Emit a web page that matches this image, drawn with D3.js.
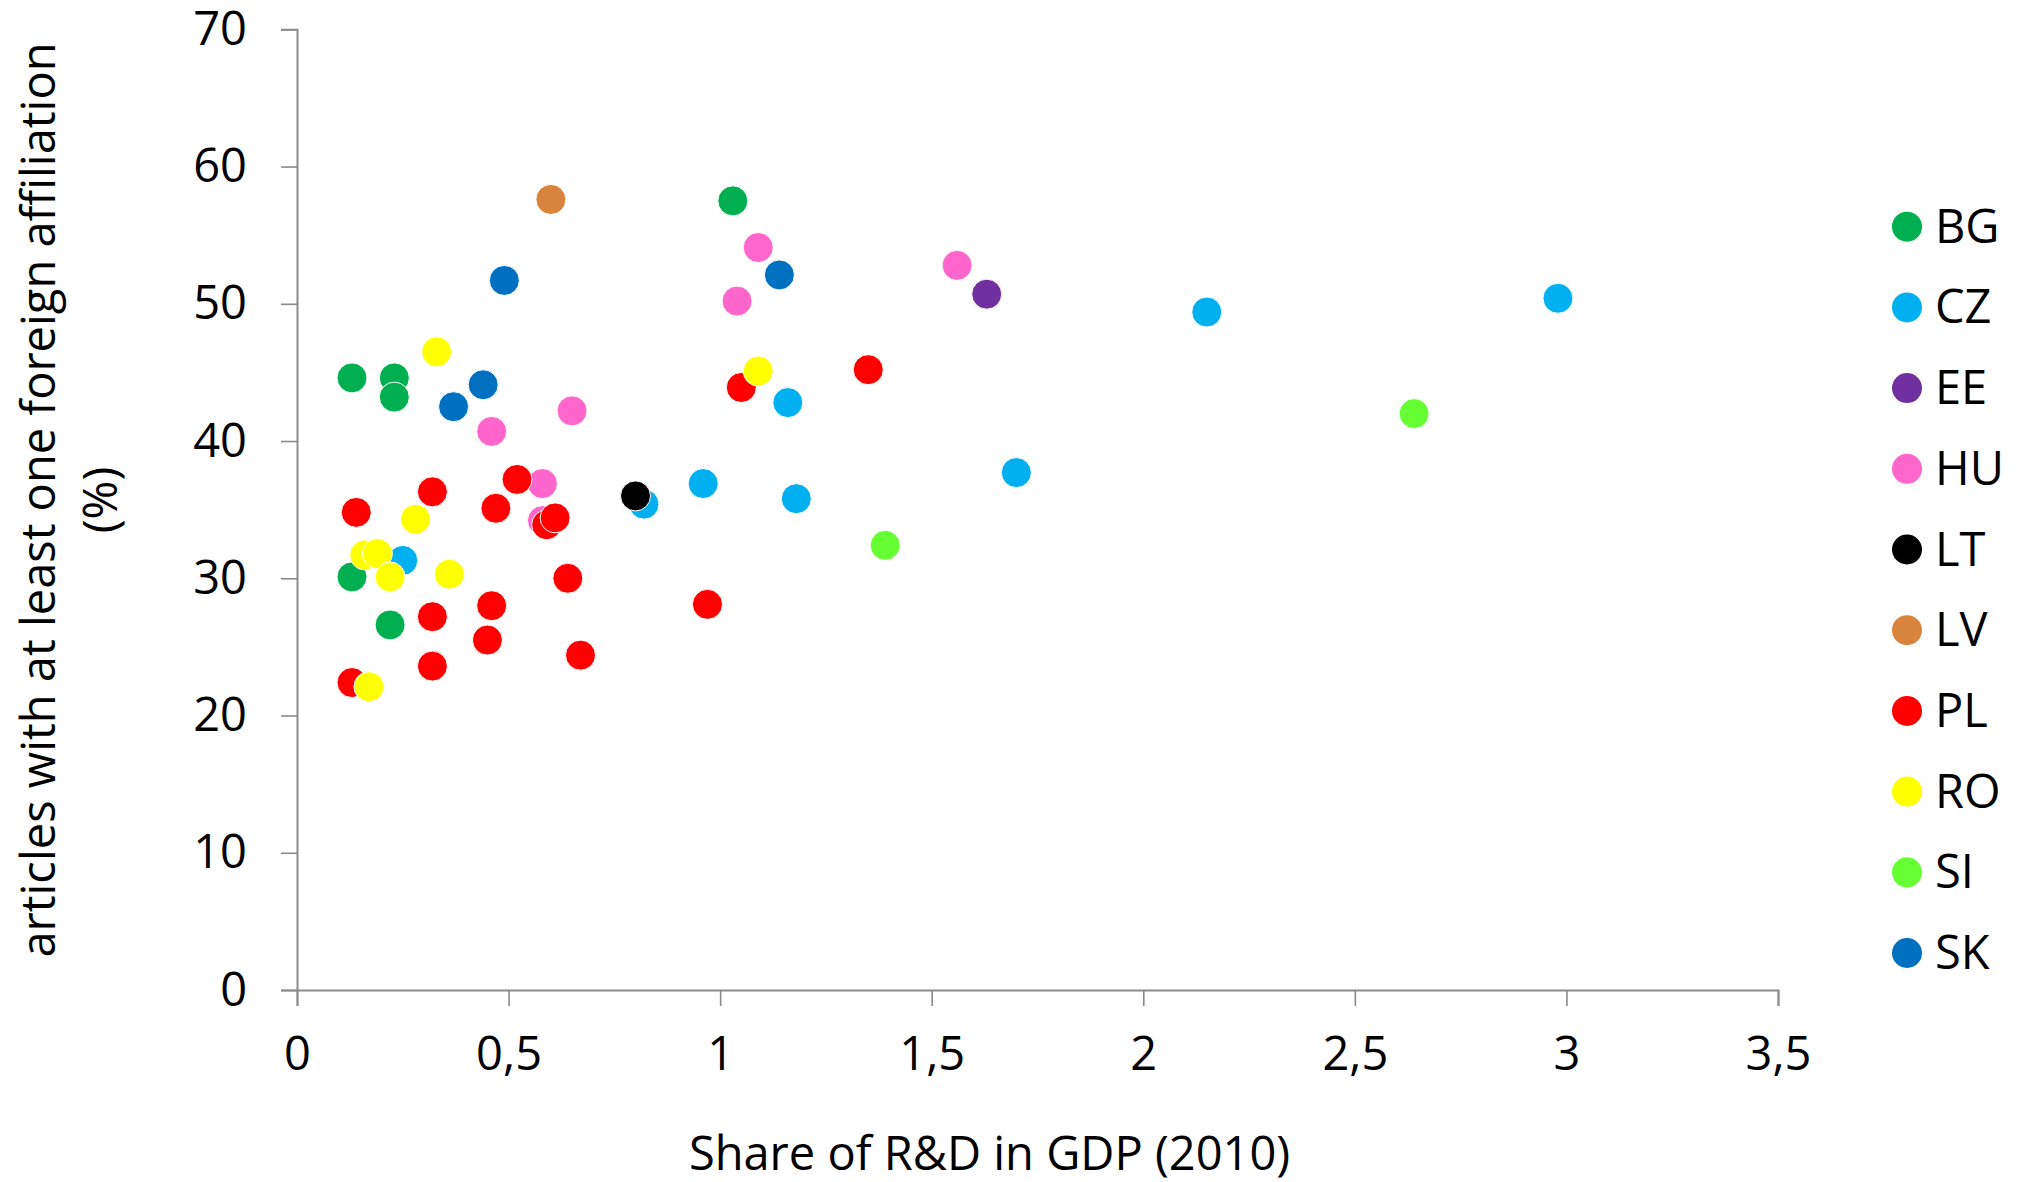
<!DOCTYPE html>
<html>
<head>
<meta charset="utf-8">
<script src="https://cdn.jsdelivr.net/npm/d3@7"></script>
<style>
  html, body { margin: 0; padding: 0; background: #fff; }
  svg { display: block; }
  text { font-family: "Open Sans", "Noto Sans", sans-serif; fill: #000; }
</style>
</head>
<body>
<svg id="chart" width="2020" height="1182"></svg>
<script>
// ---- data ----
const countries = ["BG", "CZ", "EE", "HU", "LT", "LV", "PL", "RO", "SI", "SK"];
const countryColors = ["#00B050", "#00B0F0", "#7030A0", "#FF66CC", "#000000", "#D8843C", "#FF0000", "#FFFF00", "#66FF33", "#0070C0"];

// one entry per point: country, share of R&D in GDP (2010), % articles with foreign affiliation
const pointCountry = [
  "BG","BG","BG","BG","BG","BG",
  "CZ","CZ","CZ","CZ","CZ","CZ","CZ","CZ",
  "EE",
  "HU","HU","HU","HU","HU","HU","HU",
  "LT",
  "LV",
  "PL","PL","PL","PL","PL","PL","PL","PL","PL","PL","PL","PL","PL","PL","PL","PL",
  "RO","RO","RO","RO","RO","RO","RO","RO",
  "SI","SI",
  "SK","SK","SK","SK"
];
const rdShare = [
  0.13, 0.23, 0.23, 1.03, 0.13, 0.22,
  0.25, 0.82, 0.96, 1.16, 1.18, 1.70, 2.15, 2.98,
  1.63,
  1.09, 1.04, 1.56, 0.46, 0.65, 0.58, 0.58,
  0.80,
  0.60,
  0.14, 0.32, 0.52, 0.47, 0.59, 0.61, 0.64, 0.32, 0.46, 0.45, 0.32, 0.13, 0.67, 0.97, 1.05, 1.35,
  0.33, 0.28, 0.16, 0.19, 0.22, 0.36, 0.17, 1.09,
  1.39, 2.64,
  0.49, 1.14, 0.44, 0.37
];
const foreignPct = [
  44.6, 44.6, 43.2, 57.5, 30.1, 26.6,
  31.3, 35.4, 36.9, 42.8, 35.8, 37.7, 49.4, 50.4,
  50.7,
  54.1, 50.2, 52.8, 40.7, 42.2, 36.9, 34.2,
  36.0,
  57.6,
  34.8, 36.3, 37.2, 35.1, 33.9, 34.4, 30.0, 27.2, 28.0, 25.5, 23.6, 22.4, 24.4, 28.1, 43.9, 45.2,
  46.5, 34.3, 31.7, 31.8, 30.1, 30.3, 22.1, 45.1,
  32.4, 42.0,
  51.7, 52.1, 44.1, 42.5
];
const xTicks = [0, 0.5, 1, 1.5, 2, 2.5, 3, 3.5];
const yTicks = [0, 10, 20, 30, 40, 50, 60, 70];
const xTitle = "Share of R&D in GDP (2010)";
const yTitleLines = ["articles with at least one foreign affiliation", "(%)"];

// ---- chart ----
const svg = d3.select("#chart");
const FS = 47;
const axisColor = "#8A8A8A";

const x = d3.scaleLinear().domain([0, 3.5]).range([297, 1778]);
const y = d3.scaleLinear().domain([0, 70]).range([990, 29.3]);
const color = d3.scaleOrdinal().domain(countries).range(countryColors);
const fmt = d => String(d).replace(".", ",");

const xAxis = svg.append("g")
  .attr("transform", `translate(0,${y(0)})`)
  .call(d3.axisBottom(x).tickValues(xTicks).tickFormat(fmt).tickSize(16).tickPadding(31));
const yAxis = svg.append("g")
  .attr("transform", `translate(${x(0)},0)`)
  .call(d3.axisLeft(y).tickValues(yTicks).tickFormat(fmt).tickSize(16).tickPadding(34));

[xAxis, yAxis].forEach(g => {
  g.selectAll("path.domain").attr("stroke", axisColor).attr("stroke-width", 2);
  g.selectAll(".tick line").attr("stroke", axisColor).attr("stroke-width", 1.6);
  g.selectAll(".tick text")
    .attr("fill", "#000")
    .style("font-family", '"Open Sans", "Noto Sans", sans-serif')
    .style("font-size", FS + "px");
});

// points, drawn in series order
const points = rdShare.map((v, i) => ({ c: pointCountry[i], x: v, y: foreignPct[i] }));
points.sort((a, b) => countries.indexOf(a.c) - countries.indexOf(b.c));
svg.append("g").selectAll("circle")
  .data(points)
  .join("circle")
  .attr("cx", d => x(d.x))
  .attr("cy", d => y(d.y))
  .attr("r", 15)
  .attr("fill", d => color(d.c))
  .attr("stroke", "#fff")
  .attr("stroke-width", 1);

// axis titles
svg.append("text")
  .attr("x", (x(0) + x(3.5)) / 2 - 48)
  .attr("y", 1170)
  .attr("text-anchor", "middle")
  .style("font-size", FS + "px")
  .text(xTitle);

const yt = svg.append("text")
  .attr("transform", "translate(0,500) rotate(-90)")
  .attr("text-anchor", "middle")
  .style("font-size", FS + "px");
yt.append("tspan").attr("x", 0).attr("y", 55).text(yTitleLines[0]);
yt.append("tspan").attr("x", 0).attr("y", 117).text(yTitleLines[1]);

// legend
const legend = svg.append("g").selectAll("g")
  .data(countries)
  .join("g")
  .attr("transform", (d, i) => `translate(1907,${226.7 + i * 80.7})`);
legend.append("circle").attr("r", 15).attr("fill", d => color(d));
legend.append("text")
  .attr("x", 28)
  .attr("y", 16)
  .style("font-size", FS + "px")
  .text(d => d);
</script>
</body>
</html>
